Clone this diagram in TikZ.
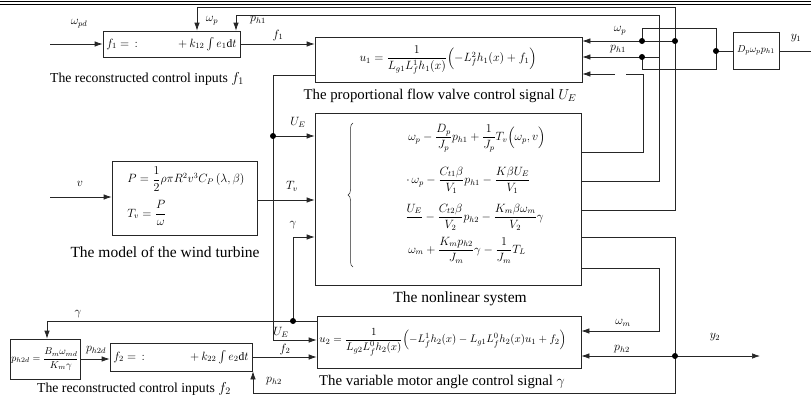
\documentclass[tikz,border=0pt]{standalone}
\usepackage{amsmath}
\usepackage{fontspec}
\setmainfont{Liberation Serif}
\usetikzlibrary{arrows.meta,calc,decorations.pathreplacing}
\begin{document}
\begin{tikzpicture}[x=1pt,y=-1pt,
 line width=0.7pt, draw=black!85,
 blk/.style={draw,inner sep=0pt},
 arr/.style={-{Latex[length=8pt,width=5.5pt]}},
 jdot/.style={circle,fill=black,draw=none,inner sep=0pt,minimum size=6pt},
 lbl/.style={inner sep=0pt,font=\fontsize{12}{14}\selectfont},
 eq/.style={inner sep=0pt,font=\fontsize{11.5}{14}\selectfont},
 captxt/.style={inner sep=0pt,font=\fontsize{13.7}{16}\selectfont}]
\useasboundingbox (0,0) rectangle (811,399);
% header rules
\draw[line width=1pt,black] (0,1.2) -- (811,1.2);
\draw[line width=0.8pt,black] (0,4.3) -- (811,4.3);

% blocks
\node[blk,minimum width=137pt,minimum height=26pt] (f1) at (171.5,44) {};
\node[blk,minimum width=267pt,minimum height=45pt] (u1) at (448.5,59.5) {};
\node[blk,minimum width=46pt,minimum height=37pt] (Dp) at (756,50.5) {};
\node[blk,minimum width=145pt,minimum height=74pt] (wt) at (184.5,198) {};
\node[blk,minimum width=266pt,minimum height=172pt] (ns) at (448,199) {};
\node[blk,minimum width=264pt,minimum height=52pt] (u2) at (449,342) {};
\node[blk,minimum width=142pt,minimum height=28pt] (f2) at (181,357) {};
\node[blk,minimum width=70pt,minimum height=40pt] (ph2d) at (45,359) {};

% block contents
\node[eq,anchor=west] (f1a) at (106,44) {$f_1=\,{:}$};
\node[eq,anchor=east] (f1b) at (237,44) {$+\,k_{12}\int e_1\mathrm{d}t$};
\node[eq] (u1t) at (448,60) {$u_1=\dfrac{1}{L_{g1}L_f^1h_1(x)}\Bigl(-L_f^2h_1(x)+f_1\Bigr)$};
\node[inner sep=0pt,font=\fontsize{10}{12}\selectfont] (Dpt) at (Dp) {$D_p\omega_p p_{h1}$};
\node[eq,anchor=west] (wt1) at (127,179) {$P=\dfrac{1}{2}\rho\pi R^2v^3C_P\left(\lambda,\beta\right)$};
\node[eq,anchor=west] (wt2) at (127,213) {$T_v=\dfrac{P}{\omega}$};
\draw[decorate,decoration={brace,amplitude=5pt},line width=0.5pt] (353,267) -- (353,123);
\node[eq,anchor=west,font=\fontsize{12}{14}\selectfont] (r1) at (408,138) {$\omega_p-\dfrac{D_p}{J_p}p_{h1}+\dfrac{1}{J_p}T_v\Bigl(\omega_p,v\Bigr)$};
\node[eq,anchor=west,font=\fontsize{12}{14}\selectfont] (r2) at (406,180) {$\cdot\,\omega_p-\dfrac{C_{t1}\beta}{V_1}p_{h1}-\dfrac{K\beta U_E}{V_1}$};
\node[eq,anchor=west,font=\fontsize{12}{14}\selectfont] (r3) at (405,217) {$\dfrac{U_E}{\phantom{V}}-\dfrac{C_{t2}\beta}{V_2}p_{h2}-\dfrac{K_m\beta\omega_m}{V_2}\gamma$};
\node[eq,anchor=west,font=\fontsize{12}{14}\selectfont] (r4) at (408,250) {$\omega_m+\dfrac{K_mp_{h2}}{J_m}\gamma-\dfrac{1}{J_m}T_L$};
\node[eq,anchor=west,font=\fontsize{11.2}{13}\selectfont] (u2t) at (319,342) {$u_2=\dfrac{1}{L_{g2}L_f^0h_2(x)}\Bigl(-L_f^1h_2(x)-L_{g1}L_f^0h_2(x)u_1+f_2\Bigr)$};
\node[eq,anchor=west] (f2a) at (113,357) {$f_2=\,{:}$};
\node[eq,anchor=east] (f2b) at (249,357) {$+\,k_{22}\int e_2\mathrm{d}t$};
\node[eq,font=\fontsize{10.3}{12}\selectfont] (ph2dt) at (ph2d) {$p_{h2d}=\dfrac{B_m\omega_{md}}{K_m\gamma}$};

% captions
\node[captxt] (c1) at (147,79) {The reconstructed control inputs $f_1$};
\node[captxt,font=\fontsize{14.8}{17}\selectfont] (c2) at (440,96) {The proportional flow valve control signal $U_E$};
\node[captxt,font=\fontsize{15.5}{18}\selectfont] (c3) at (165,252) {The model of the wind turbine};
\node[captxt,font=\fontsize{15.5}{18}\selectfont] (c4) at (460,299) {The nonlinear system};
\node[captxt] (c5) at (134,389) {The reconstructed control inputs $f_2$};
\node[captxt,font=\fontsize{14.8}{17}\selectfont] (c6) at (442,382) {The variable motor angle control signal $\gamma$};

% junction coordinates
\coordinate (wpd) at (50,44);
\coordinate (vin) at (50,197);
\coordinate (jwp) at (675,41);
\coordinate (jph) at (659,57);
\coordinate (dA) at (642,41);
\coordinate (dB) at (642,57);
\coordinate (dC) at (716,51);
\coordinate (gA) at (626,74);
\coordinate (gB) at (615,74);
\coordinate (jUE) at (273,136);
\coordinate (jg) at (293,321);
\coordinate (jph2) at (675,356);
\coordinate (y1end) at (811,51);
\coordinate (y2end) at (760,356);

% left / top connections
\draw[arr] (wpd) -- (f1.west);
\draw[arr] (f1.east) -- (f1.east -| u1.west);
\draw[arr] ([yshift=-11pt]ns.east) -| (675,7) -| ([xshift=25.5pt]f1.north);
\draw[arr] ([yshift=18pt]ns.east) -| (659,15) -| ([xshift=64.5pt]f1.north);
\draw[arr] (jwp) -- (jwp -| u1.east);
\draw[arr] (jph) -- (jph -| u1.east);
\draw ([yshift=47pt]ns.east) -| (643,74) -- (gA);
\draw[arr] (gB) -- (gB -| u1.east);
\draw (dA) |- (716,28) |- (642,69) -- (dB);
\draw (dC) -- (dC -| Dp.west);
\draw (Dp.east |- y1end) -- (y1end);

% right side
\draw[arr] ([yshift=-38pt]ns.east) -| (675,393) -| ([xshift=72pt]f2.south);
\draw[arr] (jph2) -- (jph2 -| u2.east);
\draw[arr] (jph2) -- (y2end);
\draw[arr] ([yshift=-69pt]ns.east) -| (659,331) -- (u2.east |- 0,331);

% left middle
\draw[arr] ([yshift=-15.5pt]u1.west) -| (273,340) -- (u2.west |- 0,340);
\draw[arr] (jUE) -- (jUE -| ns.west);
\draw[arr] ([yshift=-2pt]wt.east) -- (ns.west |- 0,200);
\draw[arr] (vin) -- (vin -| wt.west);
\draw[arr] (u2.west |- jg) -| ([xshift=2pt]ph2d.north);
\draw[arr] (jg) |- (ns.west |- 0,237);
\draw[arr] (f2.east) -- (f2.east -| u2.west);
\draw[arr] (ph2d.east) -- (ph2d.east -| f2.west);

% dots
\foreach \p in {jwp,dA,dB,dC,jUE,jg,jph2} \node[jdot] at (\p) {};

% labels
\node[lbl] (l1) at (79,24) {$\omega_{pd}$};
\node[lbl] (l2) at (278,35) {$f_1$};
\node[lbl] (l3) at (212,21) {$\omega_p$};
\node[lbl] (l4) at (258,20) {$p_{h1}$};
\node[lbl] (l5) at (620,31) {$\omega_p$};
\node[lbl] (l6) at (618,49) {$p_{h1}$};
\node[lbl] (l7) at (796,38) {$y_1$};
\node[lbl] (l8) at (298,122) {$U_E$};
\node[lbl] (l9) at (292,186) {$T_v$};
\node[lbl] (l10) at (80,184) {$v$};
\node[lbl] (l11) at (293,225) {$\gamma$};
\node[lbl] (l12) at (281,332) {$U_E$};
\node[lbl] (l13) at (78,314) {$\gamma$};
\node[lbl] (l14) at (96,350) {$p_{h2d}$};
\node[lbl] (l15) at (285,349) {$f_2$};
\node[lbl] (l16) at (274,381) {$p_{h2}$};
\node[lbl] (l17) at (623,323) {$\omega_m$};
\node[lbl] (l18) at (622,349) {$p_{h2}$};
\node[lbl] (l19) at (715,337) {$y_2$};
\end{tikzpicture}
\end{document}
